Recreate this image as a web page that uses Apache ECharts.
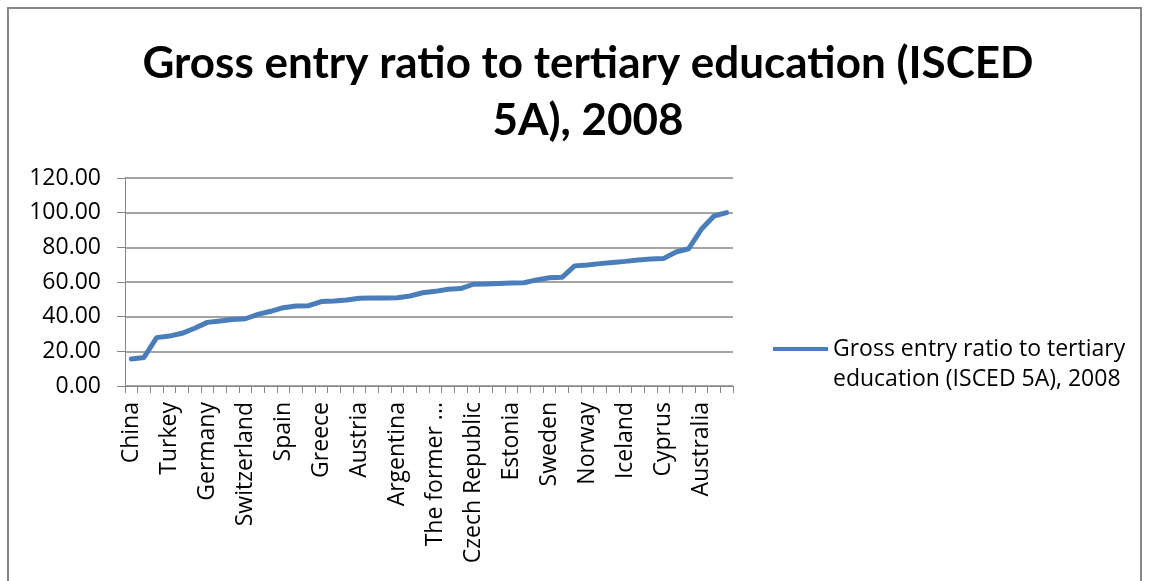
<!DOCTYPE html>
<html>
<head>
<meta charset="utf-8">
<script src="https://cdn.jsdelivr.net/npm/echarts@6/dist/echarts.min.js"></script>
<style>
  html, body { margin: 0; padding: 0; background: #ffffff; }
  #chart { width: 1149px; height: 581px; }
</style>
</head>
<body>
<div id="chart"></div>
<script>
// Countries, ordered by entry ratio (ascending)
const countries = [
  'China', 'Mexico', 'Belgium', 'Turkey', 'Saudi Arabia', 'Brazil',
  'Germany', 'Slovenia', 'Chile', 'Switzerland', 'France', 'Ireland',
  'Spain', 'Luxembourg', 'Bulgaria', 'Greece', 'Japan', 'Italy',
  'Austria', 'Croatia', 'Hungary', 'Argentina', 'Malta', 'Latvia',
  'The former Yugoslav Republic of Macedonia', 'Lithuania', 'United Kingdom', 'Czech Republic', 'Israel', 'Denmark',
  'Estonia', 'Netherlands', 'United States', 'Sweden', 'Russian Federation', 'Finland',
  'Norway', 'Korea', 'New Zealand', 'Iceland', 'Slovakia', 'Romania',
  'Cyprus', 'Portugal', 'Poland', 'Australia', 'Belarus', 'Cuba'
];

// Gross entry ratio to tertiary education (ISCED 5A), 2008
const entryRatio = [
  15.6, 16.5, 27.9, 28.8, 30.4, 33.3,
  36.7, 37.5, 38.4, 38.8, 41.3, 43.1,
  45.2, 46.1, 46.3, 48.7, 49.0, 49.6,
  50.6, 50.8, 50.8, 50.9, 51.9, 53.8,
  54.6, 55.8, 56.2, 58.7, 58.8, 59.2,
  59.4, 59.6, 61.2, 62.5, 62.7, 69.3,
  69.8, 70.6, 71.3, 71.9, 72.7, 73.3,
  73.5, 77.3, 79.2, 90.4, 98.1, 100.0
];

const seriesName = 'Gross entry ratio to tertiary education (ISCED 5A), 2008';
const chartTitle = 'Gross entry ratio to tertiary education (ISCED\n5A), 2008';

const axisGray = '#868686';
const labelFont = 'Open Sans';

const chart = echarts.init(document.getElementById('chart'));

chart.setOption({
  backgroundColor: '#ffffff',
  animation: false,
  title: {
    text: chartTitle,
    left: 583,
    top: 30,
    textAlign: 'center',
    textStyle: {
      fontFamily: 'Lato',
      fontWeight: 'bold',
      fontSize: 44,
      lineHeight: 57,
      color: '#000000'
    }
  },
  legend: {
    left: 773,
    top: 304,
    padding: 0,
    orient: 'vertical',
    icon: 'rect',
    itemWidth: 55,
    itemHeight: 4,
    selectedMode: false,
    // a leading blank line keeps the first text line level with the swatch
    formatter: function (name) {
      return '\n' + name.replace('tertiary ', 'tertiary\n');
    },
    textStyle: {
      fontFamily: labelFont,
      fontSize: 23,
      lineHeight: 30,
      color: '#000000'
    }
  },
  grid: {
    left: 125,
    top: 178,
    width: 608,
    height: 208,
    containLabel: false
  },
  xAxis: {
    type: 'category',
    data: countries,
    boundaryGap: true,
    axisLine: { show: true, lineStyle: { color: axisGray, width: 1 } },
    axisTick: { show: true, interval: 0, length: 7, lineStyle: { color: axisGray } },
    axisLabel: {
      interval: 2,
      rotate: 90,
      margin: 16,
      fontFamily: labelFont,
      fontSize: 23,
      color: '#000000',
      formatter: function (v) {
        return v.length > 25 ? v.split(' ').slice(0, 2).join(' ') + ' ...' : v;
      }
    },
    splitLine: { show: false }
  },
  yAxis: {
    type: 'value',
    min: 0,
    max: 120,
    interval: 20,
    axisLine: { show: true, lineStyle: { color: axisGray, width: 1 } },
    axisTick: { show: true, length: 8, lineStyle: { color: axisGray } },
    axisLabel: {
      margin: 24,
      fontFamily: labelFont,
      fontSize: 23,
      color: '#000000',
      formatter: function (v) { return v.toFixed(2); }
    },
    splitLine: { show: true, lineStyle: { color: axisGray, width: 1.5 } }
  },
  series: [{
    name: seriesName,
    type: 'line',
    data: entryRatio,
    showSymbol: false,
    symbol: 'none',
    smooth: false,
    lineStyle: { color: '#4a7ebb', width: 5, cap: 'round', join: 'round' },
    itemStyle: { color: '#4a7ebb' }
  }],
  graphic: [{
    type: 'rect',
    shape: { x: 8, y: 8, width: 1133, height: 600 },
    style: { fill: 'none', stroke: '#878787', lineWidth: 2 },
    silent: true,
    z: -1
  }]
});
</script>
</body>
</html>
